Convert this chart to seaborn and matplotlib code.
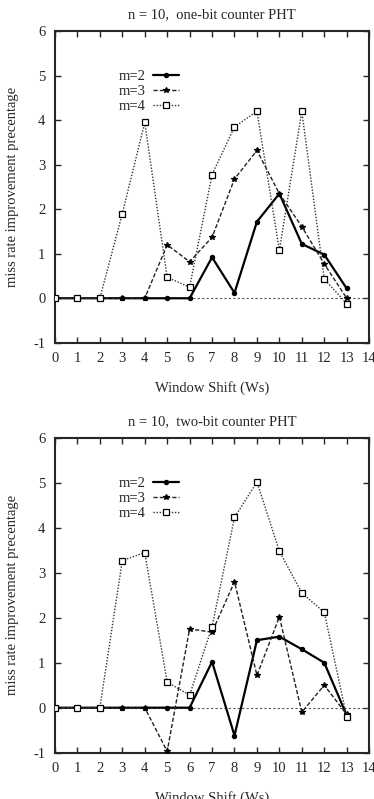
import matplotlib
matplotlib.use("Agg")
import matplotlib.pyplot as plt
import seaborn as sns
import pandas as pd

# window shift values
ws = list(range(14))

# one-bit counter PHT
one_m2 = [0, 0, 0, 0, 0, 0, 0, 0.92, 0.12, 1.72, 2.35, 1.22, 0.98, 0.22]
one_m3 = [0, 0, 0, 0, 0, 1.2, 0.82, 1.37, 2.68, 3.32, 2.35, 1.61, 0.77, 0.0]
one_m4 = [0, 0, 0, 1.9, 3.95, 0.47, 0.25, 2.78, 3.85, 4.2, 1.08, 4.2, 0.43, -0.12]

# two-bit counter PHT
two_m2 = [0, 0, 0, 0, 0, 0, 0, 1.02, -0.62, 1.5, 1.58, 1.3, 1.0, -0.17]
two_m3 = [0, 0, 0, 0, 0, -0.97, 1.75, 1.68, 2.8, 0.72, 2.02, -0.1, 0.5, -0.15]
two_m4 = [0, 0, 0, 3.27, 3.45, 0.57, 0.28, 1.8, 4.23, 5.02, 3.48, 2.55, 2.12, -0.2]

titles = ["n = 10,  one-bit counter PHT", "n = 10,  two-bit counter PHT"]
series_names = ["m=2", "m=3", "m=4"]

sns.set_theme(style="ticks")
plt.rcParams["font.family"] = ["Liberation Serif", "DejaVu Serif"]
plt.rcParams["axes.unicode_minus"] = False
plt.rcParams["xtick.direction"] = "in"
plt.rcParams["ytick.direction"] = "in"

fs = 10.5

fig = plt.figure(figsize=(3.74, 7.99), dpi=100)
ax1 = fig.add_axes([0.147, 0.571, 0.840, 0.390])
ax2 = fig.add_axes([0.147, 0.058, 0.840, 0.394])

styles = {
    "m=2": dict(ls="-", lw=1.6, marker="o", ms=3, mfc="black", color="black"),
    "m=3": dict(ls=(0, (3, 1.5)), lw=1.0, marker="*", ms=4, mfc="black", color="#222222"),
    "m=4": dict(ls=(0, (1, 1.2)), lw=1.0, marker="s", ms=4.5, mfc="white", color="#333333"),
}

for ax, title, data in [
    (ax1, titles[0], [one_m2, one_m3, one_m4]),
    (ax2, titles[1], [two_m2, two_m3, two_m4]),
]:
    ax.axhline(0, color="#555555", lw=0.8, ls=(0, (2, 2)), zorder=1)
    for name, vals in zip(series_names, data):
        df = pd.DataFrame({"ws": ws, "val": vals})
        st = styles[name]
        sns.lineplot(data=df, x="ws", y="val", ax=ax, label=name,
                     color=st["color"], linestyle=st["ls"], linewidth=st["lw"],
                     marker=st["marker"], markersize=st["ms"],
                     markerfacecolor=st["mfc"], markeredgecolor="black",
                     markeredgewidth=0.9, zorder=3)
    ax.set_xlim(0, 14)
    ax.set_ylim(-1, 6)
    ax.set_xticks(range(15))
    ax.set_yticks(range(-1, 7))
    ax.tick_params(top=True, right=True, length=4, width=1, labelsize=fs, pad=7)
    for sp in ax.spines.values():
        sp.set_linewidth(1.5)
        sp.set_visible(True)
    ax.set_title(title, fontsize=fs, pad=9)
    ax.set_xlabel("Window Shift (Ws)", fontsize=fs, labelpad=11)
    ax.set_ylabel("miss rate improvement precentage", fontsize=fs)
    ax.yaxis.set_label_coords(-0.115, 0.5)
    ax.legend(loc="upper left", bbox_to_anchor=(0.18, 0.9), frameon=False,
              markerfirst=False, fontsize=fs, handlelength=1.8,
              labelspacing=0.12, handletextpad=0.5, borderpad=0)

fig.savefig("out.png", dpi=100)
